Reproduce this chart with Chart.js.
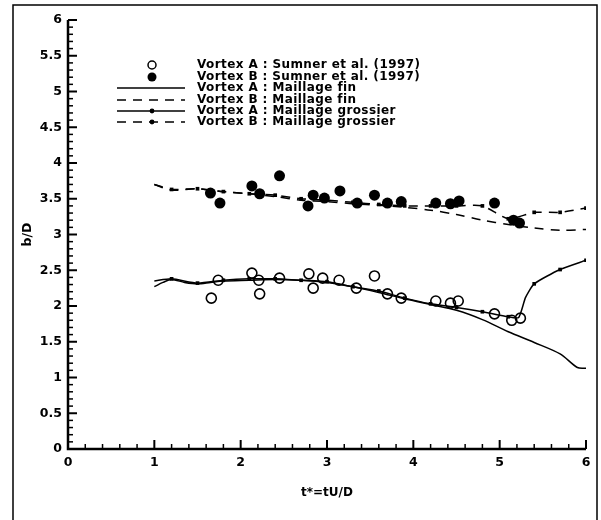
<!DOCTYPE html>
<html>
<head>
<meta charset="utf-8">
<script src="https://cdn.jsdelivr.net/npm/chart.js@4"></script>
<style>
  html, body { margin: 0; padding: 0; background: #fff; }
  #wrap { width: 601px; height: 520px; position: relative; }
</style>
</head>
<body>
<div id="wrap"><canvas id="graf" width="601" height="520"></canvas></div>
<script>
// ticks des axes
const xTicks = [0, 1, 2, 3, 4, 5, 6];
const yTicks = [0, 0.5, 1, 1.5, 2, 2.5, 3, 3.5, 4, 4.5, 5, 5.5, 6];

// Sumner et al. (1997) - experiences
const expAx = [1.66, 1.74, 2.13, 2.21, 2.22, 2.45, 2.79, 2.84, 2.95, 3.14, 3.34, 3.55, 3.70, 3.86, 4.26, 4.43, 4.52, 4.94, 5.14, 5.24];
const expAy = [2.11, 2.36, 2.46, 2.36, 2.17, 2.39, 2.45, 2.25, 2.39, 2.36, 2.25, 2.42, 2.17, 2.11, 2.07, 2.04, 2.07, 1.89, 1.80, 1.83];
const expBx = [1.65, 1.76, 2.13, 2.22, 2.45, 2.78, 2.84, 2.97, 3.15, 3.35, 3.55, 3.70, 3.86, 4.26, 4.43, 4.53, 4.94, 5.16, 5.23];
const expBy = [3.58, 3.44, 3.68, 3.57, 3.82, 3.40, 3.55, 3.51, 3.61, 3.44, 3.55, 3.44, 3.46, 3.44, 3.43, 3.47, 3.44, 3.20, 3.16];

// maillage fin
const finAx = [1.0, 1.1, 1.2, 1.35, 1.5, 1.65, 1.8, 2.1, 2.4, 2.7, 3.0, 3.3, 3.6, 3.9, 4.2, 4.5, 4.8, 5.1, 5.4, 5.7, 5.9, 6.0];
const finAy = [2.27, 2.33, 2.37, 2.33, 2.31, 2.33, 2.35, 2.36, 2.37, 2.36, 2.33, 2.27, 2.19, 2.10, 2.02, 1.94, 1.81, 1.64, 1.49, 1.33, 1.14, 1.13];
const finBx = [1.0, 1.2, 1.5, 1.8, 2.1, 2.4, 2.7, 3.0, 3.3, 3.6, 3.9, 4.2, 4.5, 4.8, 5.1, 5.4, 5.7, 6.0];
const finBy = [3.70, 3.62, 3.64, 3.60, 3.57, 3.53, 3.48, 3.46, 3.43, 3.41, 3.38, 3.34, 3.28, 3.20, 3.14, 3.09, 3.06, 3.07];

// maillage grossier
const grosAx = [1.0, 1.2, 1.5, 1.8, 2.1, 2.4, 2.7, 3.0, 3.3, 3.6, 3.9, 4.2, 4.5, 4.8, 5.1, 5.22, 5.3, 5.4, 5.7, 6.0];
const grosAy = [2.35, 2.38, 2.32, 2.36, 2.38, 2.38, 2.36, 2.34, 2.27, 2.21, 2.11, 2.03, 1.98, 1.92, 1.85, 1.84, 2.12, 2.31, 2.51, 2.64];
const grosBx = [1.0, 1.2, 1.5, 1.8, 2.1, 2.4, 2.7, 3.0, 3.3, 3.6, 3.9, 4.2, 4.5, 4.8, 5.1, 5.4, 5.7, 6.0];
const grosBy = [3.70, 3.63, 3.64, 3.60, 3.57, 3.55, 3.50, 3.48, 3.45, 3.42, 3.40, 3.40, 3.40, 3.40, 3.22, 3.31, 3.31, 3.37];

const legendLabels = [
  'Vortex A : Sumner et al. (1997)',
  'Vortex B : Sumner et al. (1997)',
  'Vortex A : Maillage fin',
  'Vortex B : Maillage fin',
  'Vortex A : Maillage grossier',
  'Vortex B : Maillage grossier'
];

const FONT = '"DejaVu Sans", Verdana, sans-serif';
const pts = (xs, ys) => xs.map((x, i) => ({ x: x, y: ys[i] }));
// marqueurs du maillage grossier seulement tous les 0.3
const grosRadius = ctx => {
  const x = ctx.raw ? ctx.raw.x : 0;
  const k = Math.round(x * 10);
  return (k % 3 === 0 && k > 10) ? 2.6 : 0;
};
const DASH = [9, 7];

// cadre exterieur + ticks vers l'interieur + legende
const deco = {
  id: 'deco',
  afterDraw(chart) {
    const c = chart.ctx;
    const xs = chart.scales.x, ys = chart.scales.y;
    const area = chart.chartArea;
    c.save();
    // cadre
    c.strokeStyle = '#000';
    c.lineWidth = 1.5;
    c.beginPath();
    c.moveTo(13, 525); c.lineTo(13, 5); c.lineTo(597, 5); c.lineTo(597, 525);
    c.stroke();

    // axes
    c.lineWidth = 2.5;
    c.beginPath();
    c.moveTo(area.left, area.top); c.lineTo(area.left, area.bottom); c.lineTo(area.right, area.bottom);
    c.stroke();

    // ticks x
    for (let k = 0; k <= 30; k++) {
      const px = xs.getPixelForValue(k * 0.2);
      const major = k % 5 === 0;
      c.lineWidth = major ? 2 : 1.5;
      c.beginPath();
      c.moveTo(px, area.bottom);
      c.lineTo(px, area.bottom - (major ? 9 : 5));
      c.stroke();
    }
    // ticks y
    for (let k = 0; k <= 60; k++) {
      const py = ys.getPixelForValue(k * 0.1);
      const major = k % 5 === 0;
      c.lineWidth = major ? 2 : 1.5;
      c.beginPath();
      c.moveTo(area.left, py);
      c.lineTo(area.left + (major ? 9 : 5), py);
      c.stroke();
    }

    // legende
    const rowY = [65, 77, 88, 100, 111, 122];
    const sx0 = 117, sx1 = 185, scx = 152, tx = 197;
    c.font = 'bold 12px ' + FONT;
    if ('letterSpacing' in c) c.letterSpacing = '0.4px';
    c.fillStyle = '#000';
    c.textBaseline = 'middle';
    c.textAlign = 'left';
    legendLabels.forEach((lab, i) => {
      const y = rowY[i];
      c.lineWidth = 1.5;
      c.setLineDash([]);
      if (i === 0) {
        c.beginPath(); c.arc(scx, y, 4, 0, Math.PI * 2); c.stroke();
      } else if (i === 1) {
        c.beginPath(); c.arc(scx, y, 4.5, 0, Math.PI * 2); c.fill();
      } else {
        if (i === 3 || i === 5) c.setLineDash(DASH);
        c.beginPath(); c.moveTo(sx0, y); c.lineTo(sx1, y); c.stroke();
        c.setLineDash([]);
        if (i >= 4) { c.beginPath(); c.arc(scx, y, 2.4, 0, Math.PI * 2); c.fill(); }
      }
      c.fillText(lab, tx, y);
    });
    c.restore();
  }
};

const ctx = document.getElementById('graf').getContext('2d');
new Chart(ctx, {
  type: 'scatter',
  data: {
    datasets: [
      {
        label: legendLabels[2], data: pts(finAx, finAy), showLine: true,
        borderColor: '#000', borderWidth: 1.5, pointRadius: 0, tension: 0.3
      },
      {
        label: legendLabels[3], data: pts(finBx, finBy), showLine: true,
        borderColor: '#000', borderWidth: 1.5, borderDash: DASH, pointRadius: 0, tension: 0.3
      },
      {
        label: legendLabels[4], data: pts(grosAx, grosAy), showLine: true,
        borderColor: '#000', borderWidth: 1.5, pointRadius: grosRadius, pointStyle: 'rect',
        pointBackgroundColor: '#000', pointBorderWidth: 0, tension: 0.2
      },
      {
        label: legendLabels[5], data: pts(grosBx, grosBy), showLine: true,
        borderColor: '#000', borderWidth: 1.5, borderDash: DASH, pointRadius: grosRadius,
        pointStyle: 'rect', pointBackgroundColor: '#000', pointBorderWidth: 0, tension: 0.2
      },
      {
        label: legendLabels[0], data: pts(expAx, expAy),
        pointRadius: 5, pointBorderWidth: 1.6, pointBorderColor: '#000', pointBackgroundColor: 'rgba(0,0,0,0)'
      },
      {
        label: legendLabels[1], data: pts(expBx, expBy),
        pointRadius: 5.5, pointBorderWidth: 0, pointBackgroundColor: '#000'
      }
    ]
  },
  options: {
    responsive: false,
    animation: false,
    events: [],
    layout: { padding: { left: 0, top: 20, right: 15, bottom: 0 } },
    plugins: { legend: { display: false }, tooltip: { enabled: false } },
    scales: {
      x: {
        type: 'linear', min: 0, max: 6,
        afterBuildTicks: s => { s.ticks = xTicks.map(v => ({ value: v })); },
        afterFit: s => { s.height = 71; },
        grid: { display: false, drawTicks: false, tickLength: 0 },
        border: { display: false },
        ticks: { color: '#000', padding: 6, maxRotation: 0, font: { family: FONT, size: 12.5, weight: 'bold' }, callback: v => String(v) },
        title: { display: true, text: 't*=tU/D', color: '#000', padding: { top: 20, bottom: 20 }, font: { family: FONT, size: 12, weight: 'bold' } }
      },
      y: {
        type: 'linear', min: 0, max: 6,
        afterBuildTicks: s => { s.ticks = yTicks.map(v => ({ value: v })); },
        afterFit: s => { s.width = 68; },
        grid: { display: false, drawTicks: false, tickLength: 0 },
        border: { display: false },
        ticks: { color: '#000', padding: 6, font: { family: FONT, size: 12.5, weight: 'bold' }, callback: v => String(v) },
        title: { display: true, text: 'b/D', color: '#000', padding: { top: 20, bottom: 0 }, font: { family: FONT, size: 12.5, weight: 'bold' } }
      }
    }
  },
  plugins: [deco]
});
</script>
</body>
</html>
